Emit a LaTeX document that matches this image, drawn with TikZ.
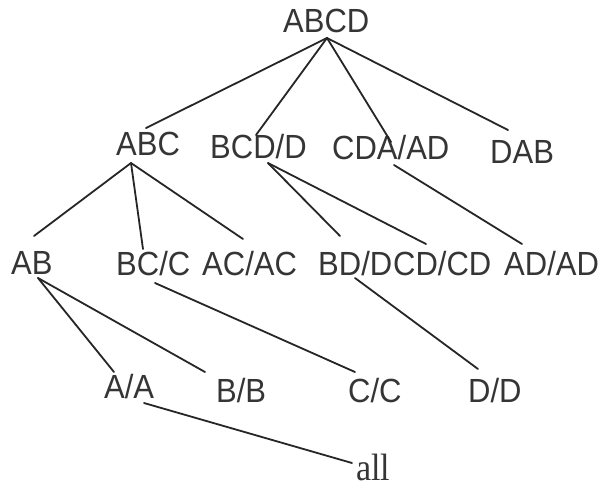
\documentclass[tikz,border=0pt]{standalone}
\usepackage{fontspec}
\setmainfont{Liberation Sans}
\newfontfamily\allserif{Liberation Serif}
\definecolor{txt}{HTML}{353535}
\definecolor{ln}{HTML}{262626}
\tikzset{
  lbl/.style={anchor=base west, inner sep=0pt, text=txt,
    font=\fontsize{31}{31}\selectfont},
  lblserif/.style={anchor=base west, inner sep=0pt, text=txt,
    font=\allserif\fontsize{34}{34}\selectfont},
  edge/.style={draw=ln, line width=1.8pt, line cap=round}
}
\begin{document}
\begin{tikzpicture}[x=1pt,y=-1pt]
\useasboundingbox[fill=white] (0,0) rectangle (611,490);
% labels (base west positions)
\node[lbl] (abcd) at (283,32) {\scalebox{1}[1.08]{ABCD}};
\node[lbl] (abc)  at (116,155) {\scalebox{1}[1.08]{ABC}};
\node[lbl] (bcd)  at (210,158) {\scalebox{1}[1.08]{BCD/D}};
\node[lbl] (cda)  at (332,159) {\scalebox{1}[1.08]{CDA/AD}};
\node[lbl] (dab)  at (490,163) {\scalebox{1}[1.08]{DAB}};
\node[lbl] (ab)   at (11,274) {\scalebox{1}[1.08]{AB}};
\node[lbl] (bc)   at (116,275) {\scalebox{1}[1.08]{BC/C}};
\node[lbl] (ac)   at (202,275) {\scalebox{1}[1.08]{AC/AC}};
\node[lbl] (bd)   at (318,275) {\scalebox{1}[1.08]{BD/D}};
\node[lbl] (cd)   at (393,275) {\scalebox{1}[1.08]{CD/CD}};
\node[lbl] (adad) at (504,275) {\scalebox{1}[1.08]{AD/AD}};
\node[lbl] (aa)   at (104,398) {\scalebox{1}[1.08]{A/A}};
\node[lbl] (bb)   at (216,402) {\scalebox{1}[1.08]{B/B}};
\node[lbl] (cc)   at (348,402) {\scalebox{1}[1.08]{C/C}};
\node[lbl] (dd)   at (468,402) {\scalebox{1}[1.08]{D/D}};
\node[lblserif] (all) at (356,480) {\scalebox{1}[1.12]{all}};
% connectors
\draw[edge] ([shift={(44,6)}]abcd.base west) -- ([shift={(30,-27)}]abc.base west);
\draw[edge] ([shift={(44,6)}]abcd.base west) -- ([shift={(46,-23)}]bcd.base west);
\draw[edge] ([shift={(44,6)}]abcd.base west) -- ([shift={(59,-17)}]cda.base west);
\draw[edge] ([shift={(44,6)}]abcd.base west) -- ([shift={(18,-33)}]dab.base west);
\draw[edge] ([shift={(15,8)}]abc.base west) -- ([shift={(23,-38)}]ab.base west);
\draw[edge] ([shift={(15,8)}]abc.base west) -- ([shift={(27,-26)}]bc.base west);
\draw[edge] ([shift={(15,8)}]abc.base west) -- ([shift={(41,-36)}]ac.base west);
\draw[edge] ([shift={(58,5)}]bcd.base west) -- ([shift={(22,-39)}]bd.base west);
\draw[edge] ([shift={(58,5)}]bcd.base west) -- ([shift={(33,-31)}]cd.base west);
\draw[edge] ([shift={(62,6)}]cda.base west) -- ([shift={(18,-31)}]adad.base west);
\draw[edge] ([shift={(27,4)}]ab.base west) -- ([shift={(10,-26)}]aa.base west);
\draw[edge] ([shift={(27,4)}]ab.base west) -- ([shift={(-11,-30)}]bb.base west);
\draw[edge] ([shift={(39,8)}]bc.base west) -- ([shift={(7,-30)}]cc.base west);
\draw[edge] ([shift={(37,3)}]bd.base west) -- ([shift={(10,-33)}]dd.base west);
\draw[edge] ([shift={(40,5)}]aa.base west) -- ([shift={(-4,-17)}]all.base west);
\end{tikzpicture}
\end{document}
